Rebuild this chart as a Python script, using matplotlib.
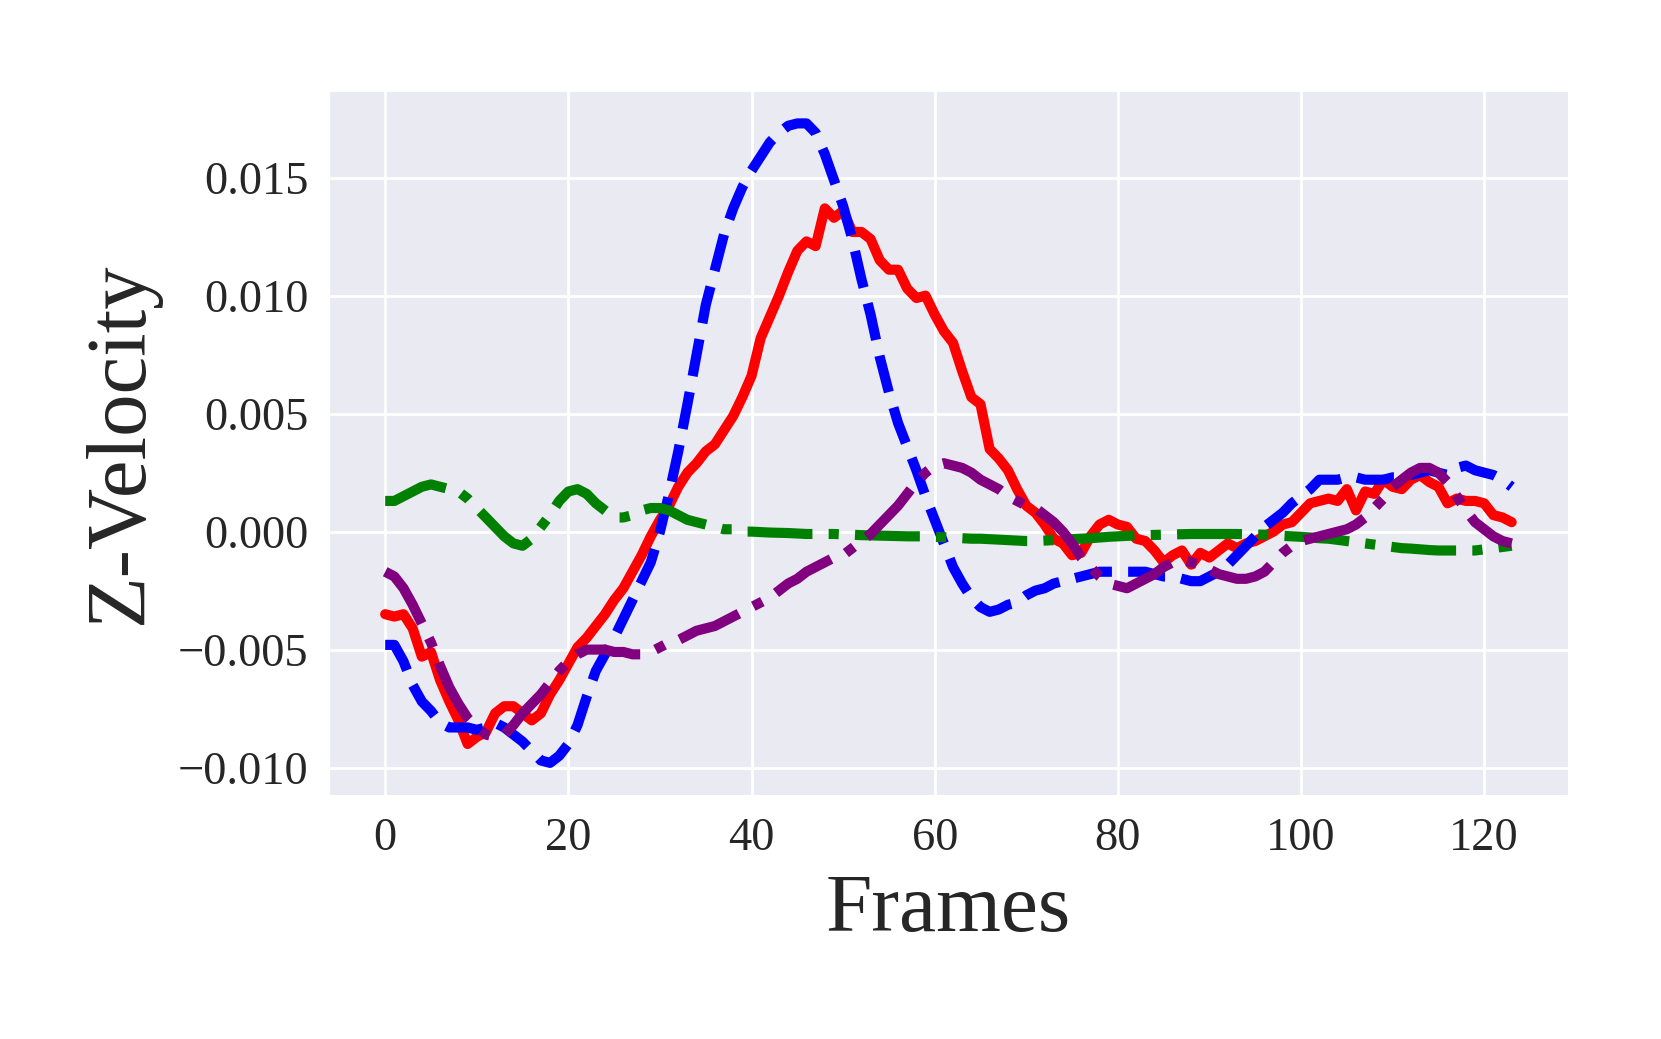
import numpy as np
import seaborn as sns
from matplotlib import pyplot as plt

# z-velocity per frame
red_vel = [-0.0035, -0.0036, -0.0035, -0.0041, -0.0053, -0.0051, -0.0063, -0.0072, -0.0080, -0.0090,
           -0.0087, -0.0085, -0.0077, -0.0074, -0.0074, -0.0077, -0.0080, -0.0077, -0.0069, -0.0063,
           -0.0056, -0.0049, -0.0045, -0.0040, -0.0035, -0.0029, -0.0024, -0.0017, -0.0010, -0.0002,
           0.0005, 0.0011, 0.0019, 0.0025, 0.0029, 0.0034, 0.0037, 0.0043, 0.0049, 0.0057,
           0.0066, 0.0082, 0.0091, 0.0100, 0.0110, 0.0119, 0.0123, 0.0121, 0.0137, 0.0133,
           0.0136, 0.0127, 0.0127, 0.0124, 0.0115, 0.0111, 0.0111, 0.0103, 0.0099, 0.0100,
           0.0092, 0.0085, 0.0080, 0.0068, 0.0057, 0.0054, 0.0035, 0.0031, 0.0026, 0.0018,
           0.0011, 0.0008, 0.0003, -0.0003, -0.0005, -0.0010, -0.0009, -0.0002, 0.0003, 0.0005,
           0.0003, 0.0002, -0.0003, -0.0004, -0.0008, -0.0013, -0.0010, -0.0008, -0.0014, -0.0009,
           -0.0011, -0.0008, -0.0005, -0.0007, -0.0005, -0.0004, -0.0002, 0.0000, 0.0003, 0.0004,
           0.0008, 0.0012, 0.0013, 0.0014, 0.0013, 0.0018, 0.0009, 0.0017, 0.0016, 0.0022,
           0.0019, 0.0018, 0.0022, 0.0024, 0.0021, 0.0019, 0.0012, 0.0014, 0.0013, 0.0013,
           0.0012, 0.0007, 0.0006, 0.0004]

blue_vel = [-0.0048, -0.0048, -0.0055, -0.0065, -0.0072, -0.0076, -0.0081, -0.0083, -0.0083, -0.0083,
            -0.0084, -0.0083, -0.0081, -0.0083, -0.0086, -0.0089, -0.0093, -0.0097, -0.0098, -0.0095,
            -0.0090, -0.0082, -0.0070, -0.0059, -0.0052, -0.0045, -0.0037, -0.0029, -0.0021, -0.0013,
            0.0000, 0.0016, 0.0034, 0.0054, 0.0075, 0.0096, 0.0111, 0.0126, 0.0137, 0.0146,
            0.0153, 0.0159, 0.0165, 0.0169, 0.0172, 0.0173, 0.0173, 0.0169, 0.0160, 0.0149,
            0.0138, 0.0124, 0.0107, 0.0092, 0.0074, 0.0059, 0.0046, 0.0036, 0.0026, 0.0015,
            0.0005, -0.0005, -0.0015, -0.0022, -0.0028, -0.0032, -0.0034, -0.0033, -0.0031, -0.0030,
            -0.0027, -0.0025, -0.0024, -0.0022, -0.0021, -0.0020, -0.0019, -0.0018, -0.0017, -0.0017,
            -0.0017, -0.0017, -0.0017, -0.0017, -0.0018, -0.0019, -0.0019, -0.0020, -0.0021, -0.0021,
            -0.0019, -0.0017, -0.0014, -0.0010, -0.0006, -0.0002, 0.0002, 0.0005, 0.0008, 0.0012,
            0.0015, 0.0018, 0.0022, 0.0022, 0.0022, 0.0023, 0.0023, 0.0022, 0.0022, 0.0022,
            0.0023, 0.0023, 0.0024, 0.0025, 0.0026, 0.0025, 0.0024, 0.0027, 0.0028, 0.0026,
            0.0025, 0.0024, 0.0022, 0.0019]

green_vel = [0.0013, 0.0013, 0.0015, 0.0017, 0.0019, 0.0020, 0.0019, 0.0018, 0.0017, 0.0014,
             0.0010, 0.0006, 0.0002, -0.0002, -0.0005, -0.0006, -0.0003, 0.0002, 0.0007, 0.0013,
             0.0017, 0.0018, 0.0016, 0.0012, 0.0009, 0.0006, 0.0006, 0.0007, 0.0009, 0.0010,
             0.0010, 0.0009, 0.0007, 0.0005, 0.0004, 0.0003, 0.0002, 0.0001, 0.0001, 0.0000,
             0.0000, -0.00002, -0.00004, -0.00005, -0.00006, -0.00008, -0.0001, -0.0001, -0.0001, -0.0001,
             -0.00012, -0.00013, -0.00015, -0.00016, -0.00017, -0.00018, -0.00019, -0.0002, -0.0002, -0.0002,
             -0.00022, -0.00024, -0.00026, -0.00028, -0.0003, -0.0003, -0.00032, -0.00034, -0.00036, -0.00038,
             -0.0004, -0.0004, -0.00038, -0.00036, -0.00034, -0.00032, -0.0003, -0.00028, -0.00025, -0.00022,
             -0.0002, -0.00018, -0.00016, -0.00015, -0.00014, -0.00013, -0.00012, -0.00011, -0.0001, -0.0001,
             -0.0001, -0.0001, -0.0001, -0.0001, -0.00011, -0.00012, -0.00013, -0.00015, -0.00018, -0.0002,
             -0.00022, -0.00025, -0.00028, -0.0003, -0.00035, -0.0004, -0.00045, -0.0005, -0.00055, -0.0006,
             -0.00065, -0.0007, -0.00072, -0.00075, -0.00078, -0.0008, -0.0008, -0.0008, -0.0008, -0.0008,
             -0.00075, -0.0007, -0.00065, -0.0006]

purple_vel = [-0.0017, -0.0019, -0.0024, -0.0031, -0.0039, -0.0047, -0.0057, -0.0066, -0.0073, -0.0079,
              -0.0083, -0.0086, -0.0087, -0.0086, -0.0082, -0.0077, -0.0073, -0.0069, -0.0064, -0.0059,
              -0.0055, -0.0052, -0.0050, -0.0050, -0.0050, -0.0051, -0.0051, -0.0052, -0.0052, -0.0051,
              -0.0049, -0.0047, -0.0046, -0.0044, -0.0042, -0.0041, -0.0040, -0.0038, -0.0036, -0.0034,
              -0.0032, -0.0030, -0.0028, -0.0025, -0.0022, -0.0020, -0.0017, -0.0015, -0.0013, -0.0011,
              -0.0010, -0.0007, -0.0004, -0.0001, 0.0003, 0.0007, 0.0011, 0.0016, 0.0021, 0.0025,
              0.0028, 0.0029, 0.0028, 0.0027, 0.0025, 0.0022, 0.0020, 0.0018, 0.0015, 0.0013,
              0.0011, 0.0010, 0.0007, 0.0004, 0.0000, -0.0005, -0.0011, -0.0015, -0.0019, -0.0022,
              -0.0023, -0.0024, -0.0022, -0.0020, -0.0018, -0.0015, -0.0013, -0.0012, -0.0013, -0.0014,
              -0.0016, -0.0018, -0.0019, -0.0020, -0.0020, -0.0019, -0.0017, -0.0013, -0.0009, -0.0006,
              -0.0004, -0.0003, -0.0002, -0.0001, 0.0000, 0.0001, 0.0003, 0.0006, 0.0010, 0.0014,
              0.0019, 0.0022, 0.0025, 0.0027, 0.0027, 0.0025, 0.0021, 0.0015, 0.0009, 0.0004,
              0.0001, -0.0002, -0.0004, -0.0005]

frames = np.arange(len(red_vel))

sns.set_style("darkgrid")
plt.rcParams['font.family'] = ['Liberation Serif', 'DejaVu Serif']
plt.rcParams['axes.unicode_minus'] = True

fig, ax = plt.subplots(figsize=(16.61, 10.39), dpi=100)
fig.subplots_adjust(left=0.198, right=0.944, bottom=0.235, top=0.912)

lw = 7.3
ax.plot(frames, red_vel, color='red', linestyle='-', linewidth=lw)
ax.plot(frames, blue_vel, color='blue', linestyle='--', linewidth=lw)
ax.plot(frames, green_vel, color='green', linestyle='-.', linewidth=lw)
ax.plot(frames, purple_vel, color='purple', linestyle='-.', linewidth=lw)

ax.grid(True, color='white', linewidth=2)
ax.set_xticks([0, 20, 40, 60, 80, 100, 120])
ax.set_yticks([-0.010, -0.005, 0.000, 0.005, 0.010, 0.015])
ax.tick_params(axis='both', labelsize=33.5, length=0)
ax.tick_params(axis='x', pad=16)
ax.tick_params(axis='y', pad=14.5)
ax.set_xlabel('Frames', fontsize=60, labelpad=10)
ax.set_ylabel('Z-Velocity', fontsize=61, labelpad=13)

fig.savefig('out.png', dpi=100)
